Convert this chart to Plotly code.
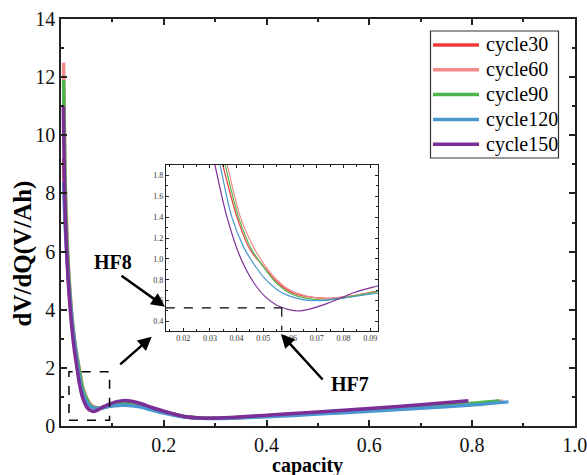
import plotly.graph_objects as go

# ---- data ----
series_names = ["cycle30", "cycle60", "cycle90", "cycle120", "cycle150"]
series_colors = ["#f03a3a", "#f38a8a", "#4cb54c", "#4a96cf", "#7b2e96"]

cap_30 = [0.005, 0.008, 0.012, 0.017, 0.022, 0.028, 0.0348, 0.040, 0.045, 0.050, 0.055, 0.060, 0.0663, 0.0738, 0.0813, 0.0928,
          0.105, 0.125, 0.15, 0.175, 0.20, 0.24, 0.285, 0.33, 0.40, 0.50, 0.60, 0.70, 0.80, 0.86]
dvdq_30 = [9.2, 7.3, 5.8, 4.4, 3.4, 2.55, 1.90, 1.41, 1.09, 0.93, 0.78, 0.685, 0.637, 0.62, 0.637, 0.69,
           0.74, 0.77, 0.72, 0.60, 0.48, 0.32, 0.27, 0.28, 0.34, 0.44, 0.55, 0.65, 0.75, 0.84]

cap_60 = [0.005, 0.008, 0.012, 0.017, 0.023, 0.029, 0.0365, 0.0413, 0.0462, 0.050, 0.055, 0.060, 0.0663, 0.0738, 0.0813, 0.0928,
          0.105, 0.125, 0.15, 0.175, 0.20, 0.24, 0.285, 0.33, 0.40, 0.50, 0.60, 0.70, 0.80, 0.86]
dvdq_60 = [12.5, 8.6, 6.4, 4.8, 3.5, 2.65, 1.90, 1.41, 1.12, 0.96, 0.80, 0.70, 0.643, 0.62, 0.637, 0.685,
           0.74, 0.77, 0.72, 0.60, 0.48, 0.32, 0.27, 0.28, 0.34, 0.44, 0.55, 0.66, 0.76, 0.85]

cap_90 = [0.005, 0.008, 0.012, 0.017, 0.023, 0.029, 0.0357, 0.0406, 0.0456, 0.050, 0.055, 0.060, 0.0663, 0.0738, 0.0813, 0.0928,
          0.105, 0.125, 0.15, 0.175, 0.20, 0.24, 0.285, 0.33, 0.40, 0.50, 0.60, 0.70, 0.80, 0.854]
dvdq_90 = [11.9, 8.3, 6.2, 4.65, 3.4, 2.6, 1.90, 1.41, 1.09, 0.925, 0.765, 0.67, 0.62, 0.605, 0.63, 0.685,
           0.75, 0.79, 0.74, 0.62, 0.49, 0.33, 0.27, 0.28, 0.35, 0.45, 0.56, 0.67, 0.78, 0.87]

cap_120 = [0.005, 0.008, 0.012, 0.016, 0.021, 0.027, 0.0338, 0.0381, 0.0425, 0.0462, 0.0506, 0.0563, 0.0638, 0.070, 0.0788, 0.0928,
           0.105, 0.125, 0.15, 0.175, 0.20, 0.24, 0.285, 0.33, 0.40, 0.50, 0.60, 0.70, 0.80, 0.871]
dvdq_120 = [8.4, 6.9, 5.7, 4.7, 3.7, 2.75, 1.90, 1.41, 1.12, 0.96, 0.81, 0.685, 0.614, 0.598, 0.62, 0.67,
            0.70, 0.71, 0.67, 0.56, 0.45, 0.31, 0.26, 0.27, 0.32, 0.41, 0.51, 0.61, 0.72, 0.83]

cap_150 = [0.0045, 0.007, 0.010, 0.014, 0.019, 0.025, 0.0319, 0.0363, 0.0413, 0.0462, 0.0506, 0.0563, 0.0638, 0.0738, 0.0838, 0.0928,
           0.105, 0.125, 0.15, 0.175, 0.20, 0.24, 0.285, 0.33, 0.40, 0.50, 0.60, 0.70, 0.793]
dvdq_150 = [11.0, 8.1, 6.4, 5.0, 3.8, 2.75, 1.90, 1.41, 1.02, 0.78, 0.64, 0.54, 0.50, 0.57, 0.675, 0.74,
            0.82, 0.88, 0.80, 0.65, 0.51, 0.33, 0.27, 0.29, 0.37, 0.48, 0.60, 0.73, 0.87]

caps = [cap_30, cap_60, cap_90, cap_120, cap_150]
vals = [dvdq_30, dvdq_60, dvdq_90, dvdq_120, dvdq_150]

main_xticks = [0.2, 0.4, 0.6, 0.8, 1.0]
main_yticks = [0, 2, 4, 6, 8, 10, 12, 14]
inset_xticks = [0.02, 0.03, 0.04, 0.05, 0.06, 0.07, 0.08, 0.09]
inset_yticks = [0.4, 0.6, 0.8, 1.0, 1.2, 1.4, 1.6, 1.8]

SERIF = "Liberation Serif"

# layout geometry (pixels) used to place the legend box
W, H = 587, 475
ML, MR, MT, MB = 61, 12, 19, 49
PW, PH = W - ML - MR, H - MT - MB


def px_to_paper(px, py):
    return (px - ML) / PW, (H - MB - py) / PH


fig = go.Figure()

for name, col, x, y in zip(series_names, series_colors, caps, vals):
    fig.add_trace(go.Scatter(x=x, y=y, mode="lines", name=name, showlegend=False,
                             line=dict(color=col, width=3.5, shape="spline", smoothing=0.8),
                             xaxis="x", yaxis="y"))
for name, col, x, y in zip(series_names, series_colors, caps, vals):
    fig.add_trace(go.Scatter(x=x, y=y, mode="lines", name=name, showlegend=False,
                             line=dict(color=col, width=1.2, shape="spline", smoothing=0.8),
                             xaxis="x2", yaxis="y2"))

axis_common = dict(showline=True, linecolor="#222", mirror="allticks", ticks="inside",
                   showgrid=False, zeroline=False, tickcolor="#222", automargin=False,
                   ticklabeloverflow="allow")

fig.update_layout(
    width=W, height=H,
    margin=dict(l=ML, r=MR, t=MT, b=MB),
    plot_bgcolor="white", paper_bgcolor="white",
    font=dict(family=SERIF, color="#111"),
    showlegend=False,
    xaxis=dict(domain=[0, 1], range=[0, 1.0005], tickvals=main_xticks,
               ticktext=[f"{v:.1f}" for v in main_xticks], ticklen=6, linewidth=1.5, tickwidth=1.5,
               tickfont=dict(size=20, family=SERIF),
               minor=dict(ticks="inside", dtick=0.1, tick0=0, ticklen=3, tickcolor="#222"),
               **axis_common),
    yaxis=dict(domain=[0, 1], range=[0, 14], tickvals=main_yticks, ticklen=6, linewidth=1.5, tickwidth=1.5,
               tickfont=dict(size=20, family=SERIF),
               minor=dict(ticks="inside", dtick=1, tick0=0, ticklen=3, tickcolor="#222"),
               **axis_common),
    xaxis2=dict(domain=[0.204, 0.617], anchor="y2", range=[0.0135, 0.093], tickvals=inset_xticks,
                tickformat=".2f", ticklen=3, linewidth=1, tickwidth=1,
                tickfont=dict(size=8, color="#333", family=SERIF),
                minor=dict(ticks="inside", dtick=0.005, tick0=0, ticklen=2, tickcolor="#222"),
                **axis_common),
    yaxis2=dict(domain=[0.234, 0.641], anchor="x2", range=[0.31, 1.9], tickvals=inset_yticks,
                tickformat=".1f", ticklen=3, linewidth=1, tickwidth=1,
                tickfont=dict(size=8, color="#333", family=SERIF),
                minor=dict(ticks="inside", dtick=0.1, tick0=0, ticklen=2, tickcolor="#222"),
                **axis_common),
)

txt = dict(xref="paper", yref="paper", showarrow=False, xanchor="center", yanchor="middle")
# axis titles
fig.add_annotation(x=0.48, y=-0.096, text="<b>capacity</b>",
                   font=dict(size=20, family=SERIF, color="black"), **txt)
fig.add_annotation(x=-0.073, y=0.425, textangle=-90, text="<b>dV/dQ(V/Ah)</b>",
                   font=dict(size=25, family=SERIF, color="black"), **txt)

# legend box (drawn by hand to match the reference's compact spacing)
bx0, by0 = px_to_paper(430.5, 31)
bx1, by1 = px_to_paper(558.5, 158)
fig.add_shape(type="rect", xref="paper", yref="paper", x0=bx0, x1=bx1, y0=by1, y1=by0,
              line=dict(color="#333", width=1.2), fillcolor="white", layer="above")
for i, (name, col) in enumerate(zip(series_names, series_colors)):
    row_py = 45 + 24.8 * i
    lx0, ly = px_to_paper(433, row_py)
    lx1, _ = px_to_paper(479, row_py)
    tx, _ = px_to_paper(484, row_py)
    fig.add_shape(type="line", xref="paper", yref="paper", x0=lx0, x1=lx1, y0=ly, y1=ly,
                  line=dict(color=col, width=3.5), layer="above")
    fig.add_annotation(x=tx, y=ly, xref="paper", yref="paper", showarrow=False,
                       xanchor="left", yanchor="middle", text=name,
                       font=dict(size=20, family=SERIF, color="black"))

# zoom box in main plot
fig.add_shape(type="rect", xref="x", yref="y", x0=0.0155, x1=0.0945, y0=0.2, y1=1.87,
              line=dict(color="black", width=1.5, dash="dash"))
# HF markers in inset
fig.add_shape(type="line", xref="x2", yref="y2", x0=0.0135, x1=0.0569, y0=0.53, y1=0.53,
              line=dict(color="black", width=1.2, dash="dash"))
fig.add_shape(type="line", xref="x2", yref="y2", x0=0.0569, x1=0.0569, y0=0.53, y1=0.31,
              line=dict(color="black", width=1.2, dash="dash"))

arrow = dict(showarrow=True, arrowhead=2, arrowsize=1.1, arrowwidth=2.5, arrowcolor="black",
             xref="paper", yref="paper", axref="pixel", ayref="pixel", text="")
fig.add_annotation(x=0.1765, y=0.2194, ax=-33, ay=29, **arrow)
fig.add_annotation(x=0.2023, y=0.2931, ax=-45, ay=-32, **arrow)
fig.add_annotation(x=0.428, y=0.226, ax=43, ay=47, **arrow)
fig.add_annotation(x=0.101, y=0.403, text="<b>HF8</b>",
                   font=dict(size=20, family=SERIF, color="black"), **txt)
fig.add_annotation(x=0.5632, y=0.1032, text="<b>HF7</b>",
                   font=dict(size=20, family=SERIF, color="black"), **txt)

fig.write_html("out.html")
